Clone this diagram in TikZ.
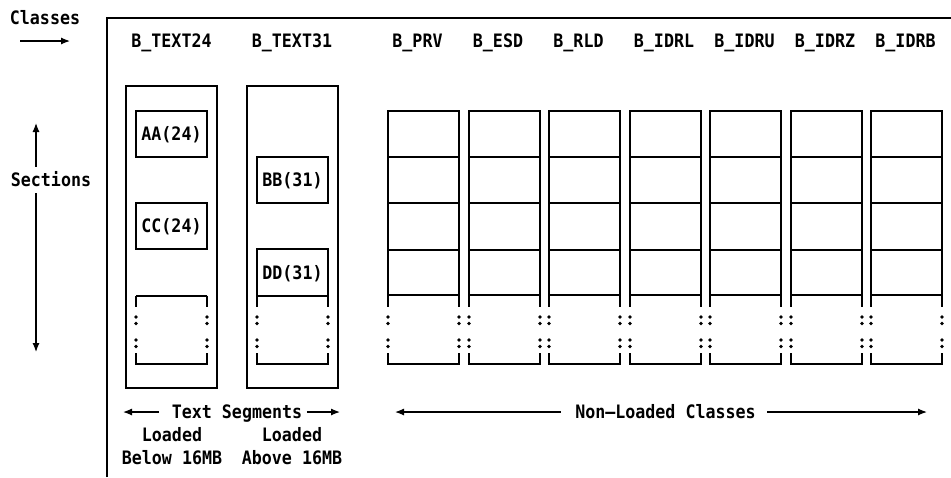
\documentclass[tikz,border=0pt]{standalone}
\usepackage{fontspec}
\setmonofont[FakeStretch=0.9]{DejaVu Sans Mono}
\usepackage{tikz}
\usetikzlibrary{arrows.meta}
\tikzstyle{layout}=[x=1pt, y=-1pt, line width=1.2pt, font=\ttfamily\bfseries\fontsize{18.5}{22}\selectfont]
\tikzstyle{lbl}=[inner sep=0pt, text height=13pt, text depth=0pt]
\tikzstyle{seg}=[rectangle, draw, inner sep=0pt, outer sep=0pt, minimum width=91pt, minimum height=302pt]
\tikzstyle{sect}=[rectangle, draw, inner sep=0pt, outer sep=0pt, text height=13pt, text depth=0pt, minimum width=71pt, minimum height=46pt]
\tikzstyle{cls}=[rectangle, draw, inner sep=0pt, outer sep=0pt, minimum width=71pt, minimum height=184pt]
\tikzstyle{edge}=[-{Latex[length=9pt, width=7pt]}]

\begin{document}
\begin{tikzpicture}[layout]
	\useasboundingbox (0,0) rectangle (951,477);

	%The outer frame
	\coordinate (f-bot) at (107,477);
	\coordinate (f-top) at (107,18);
	\coordinate (f-right) at (951,18);
	\draw (f-bot) -- (f-top) -- (f-right);

	%The axis labels
	\draw (45,18) node[lbl] (classes) {Classes};
	\coordinate (cl-a) at (20,41);
	\coordinate (cl-b) at (70,41);
	\draw[edge] (cl-a) -- (cl-b);
	\draw (51,180) node[lbl, inner ysep=6pt] (sections) {Sections};
	\coordinate (sec-top) at (36,123);
	\coordinate (sec-bot) at (36,352);
	\draw[edge] (sec-top |- sections.north) -- (sec-top);
	\draw[edge] (sec-bot |- sections.south) -- (sec-bot);

	%The class names
	\draw (171.5,41) node[lbl] (h-t24) {B\_TEXT24};
	\draw (292,41) node[lbl] (h-t31) {B\_TEXT31};
	\draw (417.5,41) node[lbl] (h-pv) {B\_PRV};
	\draw (498,41) node[lbl] (h-es) {B\_ESD};
	\draw (578.5,41) node[lbl] (h-rl) {B\_RLD};
	\draw (664,41) node[lbl] (h-il) {B\_IDRL};
	\draw (744.5,41) node[lbl] (h-iu) {B\_IDRU};
	\draw (825,41) node[lbl] (h-iz) {B\_IDRZ};
	\draw (905.5,41) node[lbl] (h-ib) {B\_IDRB};

	%The loaded text segments
	\draw (171.5,237) node[seg] (t24) {};
	\draw (292.5,237) node[seg] (t31) {};
	\draw (171.5,134) node[sect] (aa) {AA(24)};
	\draw (171.5,226) node[sect] (cc) {CC(24)};
	\draw (292.5,180) node[sect] (bb) {BB(31)};
	\draw (292.5,272.5) node[sect, minimum height=47pt] (dd) {DD(31)};
	\draw (136,296) -- (207,296);

	%The non-loaded classes
	\draw (423.5,203) node[cls] (pv) {};
	\draw (504.5,203) node[cls] (es) {};
	\draw (584.5,203) node[cls] (rl) {};
	\draw (665.5,203) node[cls] (il) {};
	\draw (745.5,203) node[cls] (iu) {};
	\draw (826.5,203) node[cls] (iz) {};
	\draw (906.5,203) node[cls] (ib) {};
	\foreach \c in {pv,es,rl,il,iu,iz,ib}{
		\draw ([yshift=-46pt]\c.north west) -- ([yshift=-46pt]\c.north east);
		\draw ([yshift=-92pt]\c.north west) -- ([yshift=-92pt]\c.north east);
		\draw ([yshift=-139pt]\c.north west) -- ([yshift=-139pt]\c.north east);
	}

	%The open ends of every column
	\foreach \xl/\xr in {136/207,257/328,388/459,469/540,549/620,630/701,710/781,791/862,871/942}{
		\draw (\xl,295.5) -- (\xl,307);
		\draw (\xr,295.5) -- (\xr,307);
		\draw (\xl,353) |- (\xr,364) -- (\xr,353);
		\foreach \y in {317,323.5,340,346.5}{
			\fill (\xl,\y) circle (1.9pt);
			\fill (\xr,\y) circle (1.9pt);
		}
	}

	%The bottom captions
	\draw (237,412) node[lbl] (tseg) {Text Segments};
	\coordinate (ts-l) at (123,412);
	\coordinate (ts-r) at (340,412);
	\draw[edge] ([xshift=-12pt]tseg.west) -- (ts-l);
	\draw[edge] ([xshift=4pt]tseg.east) -- (ts-r);
	\draw (172,435) node[lbl] (ld-b) {Loaded};
	\draw (292,435) node[lbl] (ld-a) {Loaded};
	\draw (172,458) node[lbl] (below) {Below 16MB};
	\draw (292,458) node[lbl] (above) {Above 16MB};
	\draw (665.5,412) node[lbl] (nonld) {Non—Loaded Classes};
	\coordinate (nl-l) at (395,412);
	\coordinate (nl-r) at (927,412);
	\draw[edge] ([xshift=-14pt]nonld.west) -- (nl-l);
	\draw[edge] ([xshift=11pt]nonld.east) -- (nl-r);
\end{tikzpicture}
\end{document}
